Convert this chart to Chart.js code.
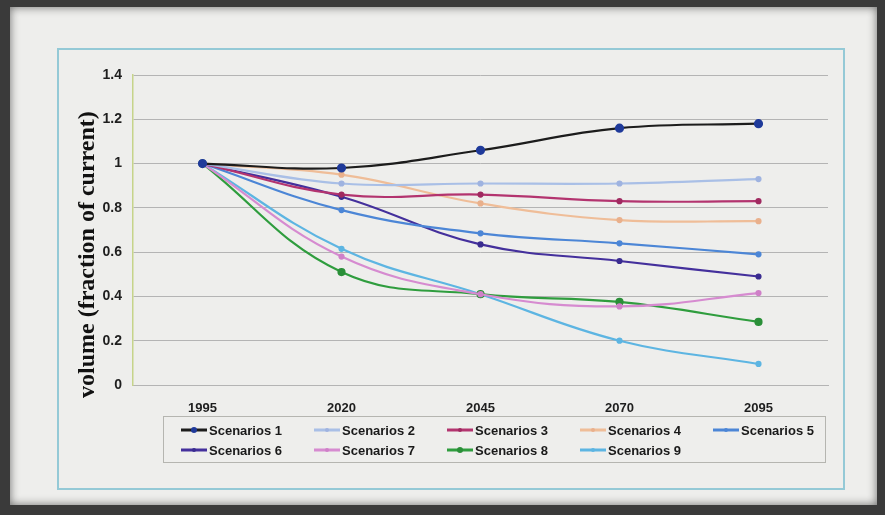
<!DOCTYPE html>
<html>
<head>
<meta charset="utf-8">
<script src="https://cdn.jsdelivr.net/npm/chart.js@4"></script>
<style>
    html, body { margin: 0; padding: 0; }
    body { width: 885px; height: 515px; background: #3a3a3a; position: relative; overflow: hidden; }
    .frame {
        position: absolute; left: 10px; top: 7px; right: 8px; bottom: 10px;
        background: #eeeeec;
        box-shadow: inset 0 0 10px rgba(0, 0, 0, 0.55);
    }
    .box {
        position: absolute; left: 57px; top: 48px; width: 788px; height: 442px;
        box-sizing: border-box; border: 2px solid #94c9d6;
    }
    #wrap { position: absolute; left: 0; top: 0; width: 885px; height: 515px; }
</style>
</head>
<body>
<div class="frame"></div>
<div class="box"></div>
<div id="wrap"><canvas id="volumeChart" width="885" height="515"></canvas></div>

<script>
/* Data */
const years = ['1995', '2020', '2045', '2070', '2095'];
const yTickLabels = ['0', '0.2', '0.4', '0.6', '0.8', '1', '1.2', '1.4'];
const yTitle = 'volume (fraction of current)';

const scenario1 = [1, 0.98, 1.06, 1.16, 1.18];
const scenario2 = [1, 0.91, 0.91, 0.91, 0.93];
const scenario3 = [1, 0.86, 0.86, 0.83, 0.83];
const scenario4 = [1, 0.95, 0.82, 0.745, 0.74];
const scenario5 = [1, 0.79, 0.685, 0.64, 0.59];
const scenario6 = [1, 0.85, 0.635, 0.56, 0.49];
const scenario7 = [1, 0.58, 0.41, 0.355, 0.415];
const scenario8 = [1, 0.51, 0.41, 0.375, 0.285];
const scenario9 = [1, 0.615, 0.41, 0.2, 0.095];

const seriesNames = ['Scenarios 1', 'Scenarios 2', 'Scenarios 3', 'Scenarios 4', 'Scenarios 5',
                     'Scenarios 6', 'Scenarios 7', 'Scenarios 8', 'Scenarios 9'];
const seriesValues = [scenario1, scenario2, scenario3, scenario4, scenario5,
                      scenario6, scenario7, scenario8, scenario9];
const lineColors = ['#1c1c1c', '#a9bfe6', '#b3346f', '#efbd98', '#4c86d6',
                    '#44309c', '#d68bd0', '#2f9d3e', '#5db5e2'];
const pointColors = ['#1f3a9a', '#9fb3e0', '#a02a60', '#e9b08c', '#4c86d6',
                     '#3a2c90', '#cf80c8', '#2a8f38', '#5db5e2'];

/* Rotated y axis title, sitting a bit low like the original */
const sideTitle = {
    id: 'sideTitle',
    afterDraw(chart) {
        const ctx = chart.ctx;
        const area = chart.chartArea;
        ctx.save();
        ctx.translate(area.left - 39, area.bottom + 13);
        ctx.rotate(-Math.PI / 2);
        ctx.font = 'bold 24px "Liberation Serif", "Times New Roman", serif';
        ctx.fillStyle = '#111111';
        ctx.textAlign = 'left';
        ctx.textBaseline = 'alphabetic';
        ctx.fillText(yTitle, 0, 0);
        ctx.restore();
    }
};

/* Legend drawn as a boxed 5-column grid under the axis */
const boxLegend = {
    id: 'boxLegend',
    afterDraw(chart) {
        const ctx = chart.ctx;
        const area = chart.chartArea;
        const left = area.left + 30, right = area.right - 3;
        const top = area.bottom + 31, bottom = top + 46;

        ctx.save();
        ctx.strokeStyle = '#b5b5b0';
        ctx.lineWidth = 1;
        ctx.strokeRect(left + 0.5, top + 0.5, right - left, bottom - top);

        ctx.font = 'bold 13px "Liberation Sans", Arial, sans-serif';
        ctx.textBaseline = 'middle';
        chart.data.datasets.forEach((ds, i) => {
            const col = i % 5, row = Math.floor(i / 5);
            const x = left + 18 + col * 133;
            const y = top + 14 + row * 20;
            ctx.strokeStyle = ds.borderColor;
            ctx.lineWidth = 3;
            ctx.beginPath();
            ctx.moveTo(x, y);
            ctx.lineTo(x + 26, y);
            ctx.stroke();
            ctx.fillStyle = ds.pointBackgroundColor;
            ctx.beginPath();
            ctx.arc(x + 13, y, (i === 0 || i === 7) ? 3 : 2, 0, Math.PI * 2);
            ctx.fill();
            ctx.fillStyle = '#1a1a1a';
            ctx.fillText(ds.label, x + 28, y + 1);
        });
        ctx.restore();
    }
};

const ctx = document.getElementById('volumeChart').getContext('2d');

new Chart(ctx, {
    type: 'line',
    data: {
        labels: years,
        datasets: seriesValues.map((vals, i) => ({
            label: seriesNames[i],
            data: vals,
            borderColor: lineColors[i],
            backgroundColor: pointColors[i],
            pointBackgroundColor: pointColors[i],
            pointBorderColor: pointColors[i],
            pointRadius: i === 0 ? 3.5 : (i === 7 ? 3 : 2),
            borderWidth: 2.2,
            tension: 0.4,
            fill: false
        }))
    },
    options: {
        responsive: false,
        animation: false,
        layout: {
            padding: { left: 82, right: 57, top: 75, bottom: 90 }
        },
        plugins: {
            legend: { display: false },
            tooltip: { enabled: false }
        },
        scales: {
            x: {
                offset: true,
                grid: { display: false, drawTicks: false },
                border: { display: true, color: '#b4b4b4', width: 1 },
                ticks: {
                    padding: 16,
                    color: '#1e1e1e',
                    font: { family: '"Liberation Sans", Arial, sans-serif', size: 13, weight: 'bold' }
                },
                afterFit: s => { s.height = 40; }
            },
            y: {
                min: 0,
                max: 1.4,
                ticks: {
                    stepSize: 0.2,
                    padding: 11,
                    color: '#1e1e1e',
                    font: { family: '"Liberation Sans", Arial, sans-serif', size: 14, weight: 'bold' },
                    callback: (v, i) => yTickLabels[i]
                },
                grid: { color: '#b4b4b4', drawTicks: false, lineWidth: 1 },
                border: { display: true, color: '#c6d48a', width: 1.5 },
                afterFit: s => { s.width = 51; }
            }
        }
    },
    plugins: [sideTitle, boxLegend]
});
</script>
</body>
</html>
